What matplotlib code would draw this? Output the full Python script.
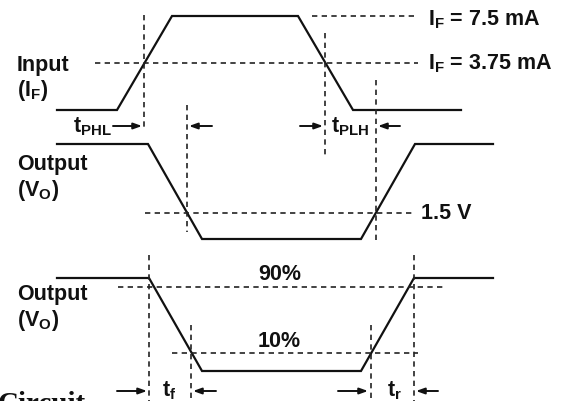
import matplotlib
matplotlib.use("Agg")
import matplotlib.pyplot as plt

plt.rcParams['mathtext.fontset'] = 'custom'
plt.rcParams['mathtext.rm'] = 'Liberation Sans:bold'
plt.rcParams['mathtext.it'] = 'Liberation Sans:bold'
plt.rcParams['mathtext.bf'] = 'Liberation Sans:bold'

# Waveforms (pixel space, y grows downward)
input_x = [57, 117, 172, 298, 353, 461]
input_y = [110, 110, 16, 16, 110, 110]
out1_x = [57, 148, 202, 361, 415, 493]
out1_y = [144, 144, 239, 239, 144, 144]
out2_x = [57, 149, 202, 361, 414, 493]
out2_y = [278, 278, 371, 371, 278, 278]

# dashed reference levels: (x_start, x_end, y)
h_refs = [(312, 418, 16), (95, 418, 63), (145, 415, 213),
          (118, 445, 287), (172, 418, 353)]
# dashed timing markers: (x, y_start, y_end)
v_refs = [(144, 15, 130), (187, 105, 232), (325, 33, 155), (376, 80, 243),
          (149, 255, 405), (191, 325, 405), (371, 325, 405), (414, 255, 405)]
# dimension arrows: (y, x_tail, x_head)
arrows = [(126, 113, 142), (126, 212, 189), (126, 300, 323), (126, 400, 378),
          (391, 117, 147), (391, 216, 193), (391, 338, 368), (391, 438, 416)]

# labels: (x, y_baseline, text)
labels = [
    (17, 71, "Input"), (17, 96, r"($\mathrm{I_F}$)"),
    (17, 170, "Output"), (17, 196, r"($\mathrm{V_O}$)"),
    (17, 300, "Output"), (17, 326, r"($\mathrm{V_O}$)"),
    (428, 25, r"$\mathrm{I_F}$ = 7.5 mA"), (428, 69, r"$\mathrm{I_F}$ = 3.75 mA"),
    (421, 219, "1.5 V"), (258, 280, "90%"), (258, 347, "10%"),
    (73, 132, r"$\mathrm{t_{PHL}}$"), (331, 132, r"$\mathrm{t_{PLH}}$"),
    (162, 396, r"$\mathrm{t_f}$"), (387, 396, r"$\mathrm{t_r}$"),
]

fig = plt.figure(figsize=(5.74, 4.01), dpi=100)
ax = fig.add_axes([0, 0, 1, 1])
ax.set_xlim(0, 574)
ax.set_ylim(401, 0)
ax.axis('off')

wave_kw = dict(color='#111111', lw=1.6, solid_joinstyle='miter')
ax.plot(input_x, input_y, **wave_kw)
ax.plot(out1_x, out1_y, **wave_kw)
ax.plot(out2_x, out2_y, **wave_kw)

dash_kw = dict(color='#222222', lw=1.2, dashes=(3.2, 2.6))
for x0, x1, y in h_refs:
    ax.plot([x0, x1], [y, y], **dash_kw)
for x, y0, y1 in v_refs:
    ax.plot([x, x], [y0, y1], **dash_kw)

for y, xt, xh in arrows:
    ax.annotate("", xy=(xh, y), xytext=(xt, y),
                arrowprops=dict(arrowstyle='-|>,head_length=0.5,head_width=0.18',
                                color='#111111', lw=1.4, shrinkA=0, shrinkB=0))

for x, y, s in labels:
    ax.text(x, y, s, fontsize=15.5, fontweight='bold', family='Liberation Sans',
            ha='left', va='baseline', color='#111111')

ax.text(-2, 412, "Circuit", fontsize=21, fontweight='bold', family='Liberation Serif',
        ha='left', va='baseline', color='#111111')

fig.savefig("out.png", dpi=100)
